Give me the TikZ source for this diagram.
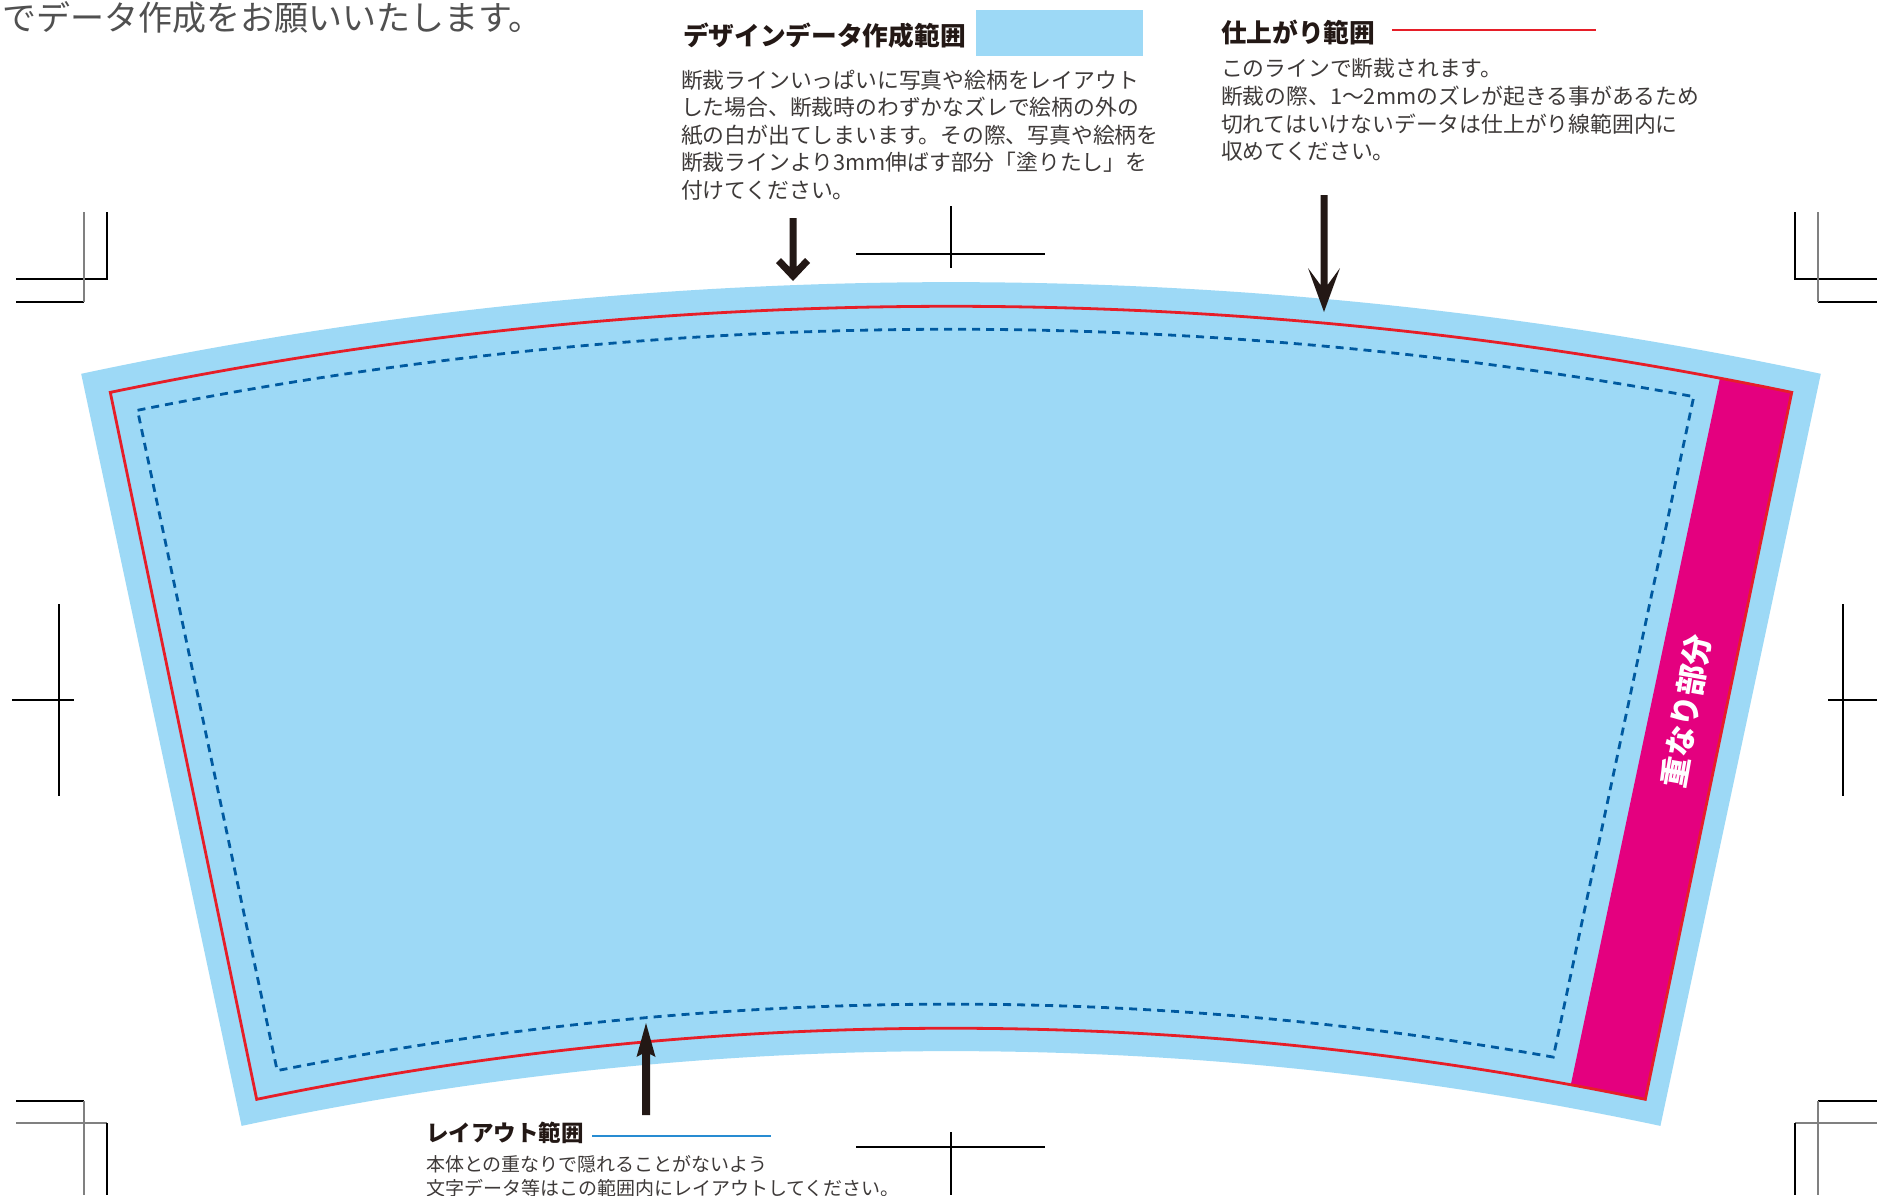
\documentclass[tikz,border=0pt]{standalone}
\usepackage{fontspec}
\setmainfont{Noto Sans CJK JP}
\usetikzlibrary{calc}
\definecolor{bandblue}{RGB}{157,217,246}
\definecolor{cutred}{RGB}{230,30,40}
\definecolor{laycol}{RGB}{0,90,160}
\definecolor{magcol}{RGB}{228,0,127}
\definecolor{inkcol}{RGB}{35,24,21}
\definecolor{bodycol}{RGB}{62,58,57}
\definecolor{topgray}{RGB}{80,80,80}
\definecolor{lineblue}{RGB}{40,140,210}
\begin{document}
\begin{tikzpicture}[x=1pt,y=-1pt,
  txt/.style={anchor=base west, inner sep=0pt, outer sep=0pt},
  titlefont/.style={font=\bfseries\fontsize{25.7}{25.7}\selectfont, text=inkcol},
  bodyfont/.style={font=\fontsize{21.8}{27.5}\selectfont, text=bodycol},
  smallfont/.style={font=\fontsize{19}{24}\selectfont, text=bodycol},
  cropk/.style={line width=1.1pt, black},
  cropg/.style={line width=1.6pt, black!50},
  arrowfill/.style={fill=inkcol}]
\useasboundingbox (0,0) rectangle (1877,1195);
\fill[white] (0,0) rectangle (1877,1195);

\coordinate (C) at (951,4452);

% bleed (design data) area
\fill[bandblue] ($(C)+(-102.04:4170)$) arc[start angle=-102.04, end angle=-77.96, radius=4170]
  -- ($(C)+(-77.96:3401)$) arc[start angle=-77.96, end angle=-102.04, radius=3401] -- cycle;

% overlap band
\fill[magcol] ($(C)+(-79.31:4146)$) arc[start angle=-79.31, end angle=-78.3, radius=4146]
  -- ($(C)+(-78.3:3424)$) arc[start angle=-78.3, end angle=-79.57, radius=3424] -- cycle;

% finishing (cut) line
\draw[cutred, line width=2.8pt] ($(C)+(-101.7:4146)$) arc[start angle=-101.7, end angle=-78.3, radius=4146]
  -- ($(C)+(-78.3:3424)$) arc[start angle=-78.3, end angle=-101.7, radius=3424] -- cycle;

% layout line
\draw[laycol, line width=2.8pt, dash pattern=on 8pt off 6pt] ($(C)+(-101.38:4123)$) arc[start angle=-101.38, end angle=-79.62, radius=4123]
  -- ($(C)+(-79.94:3448)$) arc[start angle=-79.94, end angle=-101.27, radius=3448] -- cycle;

\node[rotate=80, font=\bfseries\fontsize{31}{31}\selectfont, text=white, inner sep=0pt] (ov) at (1686,711) {重なり部分};

% top-left text
\node[txt, font=\fontsize{34}{34}\selectfont, text=topgray] (note) at (2,30.5) {でデータ作成をお願いいたします。};

% legend: design data
\fill[bandblue] (976,10) rectangle (1143,56);
\node[txt, titlefont] (t1) at (683,45) {デザインデータ作成範囲};
\node[txt, bodyfont] (b11) at (681,88.3) {断裁ラインいっぱいに写真や絵柄をレイアウト};
\node[txt, bodyfont] (b12) at (681,115.8) {した場合、断裁時のわずかなズレで絵柄の外の};
\node[txt, bodyfont] (b13) at (681,143.3) {紙の白が出てしまいます。その際、写真や絵柄を};
\node[txt, bodyfont] (b14) at (681,170.8) {断裁ラインより3mm伸ばす部分「塗りたし」を};
\node[txt, bodyfont] (b15) at (681,198.3) {付けてください。};

% legend: finishing
\draw[cutred, line width=1.5pt] (1392,30) -- (1596,30);
\node[txt, titlefont] (t2) at (1221,42) {仕上がり範囲};
\node[txt, bodyfont] (b21) at (1221,76.5) {このラインで断裁されます。};
\node[txt, bodyfont] (b22) at (1221,104.3) {断裁の際、1〜2mmのズレが起きる事があるため};
\node[txt, bodyfont] (b23) at (1221,132.1) {切れてはいけないデータは仕上がり線範囲内に};
\node[txt, bodyfont] (b24) at (1221,159.9) {収めてください。};

% legend: layout
\draw[lineblue, line width=1.5pt] (592,1136) -- (771,1136);
\node[txt, font=\bfseries\fontsize{22.5}{22.5}\selectfont, text=inkcol] (t3) at (426,1141.5) {レイアウト範囲};
\node[txt, smallfont] (b31) at (426,1171.7) {本体との重なりで隠れることがないよう};
\node[txt, smallfont] (b32) at (426,1195.7) {文字データ等はこの範囲内にレイアウトしてください。};

% arrows
\coordinate (a1s) at (793,218); \coordinate (a1t) at (793,281);
\fill[arrowfill] ($(a1s)+(-3.5,0)$) -- ($(a1t)+(-3.5,-14)$) -- ($(a1t)+(-12,-23)$) -- ($(a1t)+(-17,-18)$)
  -- (a1t) -- ($(a1t)+(17,-18)$) -- ($(a1t)+(12,-23)$) -- ($(a1t)+(3.5,-14)$) -- ($(a1s)+(3.5,0)$) -- cycle;

\coordinate (a2s) at (1324,195); \coordinate (a2t) at (1324,312);
\fill[arrowfill] ($(a2s)+(-3.5,0)$) -- ($(a2t)+(-3.5,-27)$) -- ($(a2t)+(-16,-44)$) -- (a2t)
  -- ($(a2t)+(16,-44)$) -- ($(a2t)+(3.5,-27)$) -- ($(a2s)+(3.5,0)$) -- cycle;

\coordinate (a3s) at (646,1115); \coordinate (a3t) at (646,1023);
\fill[arrowfill] ($(a3s)+(-4,0)$) -- ($(a3t)+(-4,31)$) -- ($(a3t)+(-9.5,34)$) -- (a3t)
  -- ($(a3t)+(9.5,34)$) -- ($(a3t)+(4,31)$) -- ($(a3s)+(4,0)$) -- cycle;

% crop marks: corners
\draw[cropk] (16,279) -- (107,279) -- (107,212);
\draw[cropk] (16,302) -- (84,302);
\draw[cropg] (84,212) -- (84,302);
\draw[cropk] (1877,279) -- (1795,279) -- (1795,212);
\draw[cropk] (1877,302) -- (1818,302);
\draw[cropg] (1818,212) -- (1818,302);
\draw[cropk] (16,1101) -- (84,1101);
\draw[cropg] (84,1101) -- (84,1195);
\draw[cropg] (16,1123) -- (107,1123);
\draw[cropk] (107,1123) -- (107,1195);
\draw[cropk] (1818,1101) -- (1877,1101);
\draw[cropg] (1818,1101) -- (1818,1195);
\draw[cropg] (1795,1123) -- (1877,1123);
\draw[cropk] (1795,1123) -- (1795,1195);
% crop marks: centres
\draw[cropk] (59,604) -- (59,796);
\draw[cropk] (12,700) -- (74,700);
\draw[cropk] (1843,604) -- (1843,796);
\draw[cropk] (1828,700) -- (1877,700);
\draw[cropk] (951,206) -- (951,268);
\draw[cropk] (856,254) -- (1045,254);
\draw[cropk] (951,1132) -- (951,1195);
\draw[cropk] (856,1147) -- (1045,1147);
\end{tikzpicture}
\end{document}
